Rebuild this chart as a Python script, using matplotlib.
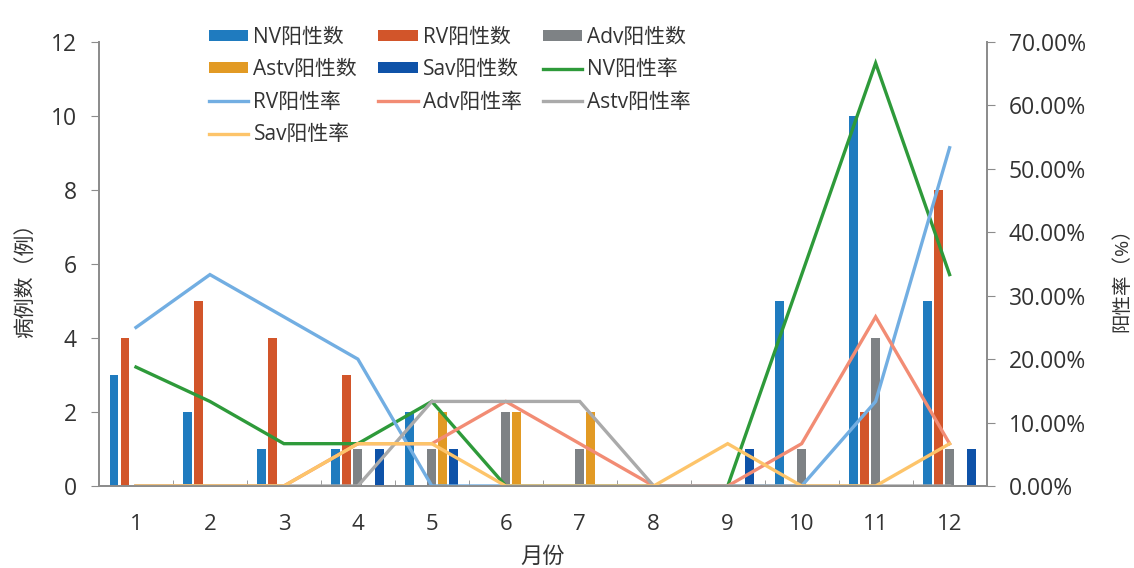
import numpy as np
import matplotlib

matplotlib.use("Agg")
import matplotlib.pyplot as plt
from matplotlib.ticker import FuncFormatter, MultipleLocator

plt.rcParams["font.family"] = ["Open Sans", "Noto Sans CJK SC", "DejaVu Sans"]

months = [1, 2, 3, 4, 5, 6, 7, 8, 9, 10, 11, 12]

# positive counts per month
nv_count = [3, 2, 1, 1, 2, 0, 0, 0, 0, 5, 10, 5]
rv_count = [4, 5, 4, 3, 0, 0, 0, 0, 0, 0, 2, 8]
adv_count = [0, 0, 0, 1, 1, 2, 1, 0, 0, 1, 4, 1]
astv_count = [0, 0, 0, 0, 2, 2, 2, 0, 0, 0, 0, 0]
sav_count = [0, 0, 0, 1, 1, 0, 0, 0, 1, 0, 0, 1]

# positive rates per month (%)
nv_rate = [18.75, 13.33, 6.67, 6.67, 13.33, 0, 0, 0, 0, 33.33, 66.67, 33.33]
rv_rate = [25.0, 33.33, 26.67, 20.0, 0, 0, 0, 0, 0, 0, 13.33, 53.33]
adv_rate = [0, 0, 0, 6.67, 6.67, 13.33, 6.67, 0, 0, 6.67, 26.67, 6.67]
astv_rate = [0, 0, 0, 0, 13.33, 13.33, 13.33, 0, 0, 0, 0, 0]
sav_rate = [0, 0, 0, 6.67, 6.67, 0, 0, 0, 6.67, 0, 0, 6.67]

BAR_SERIES = [
    ("NV阳性数", nv_count, "#1f7bbf"),
    ("RV阳性数", rv_count, "#d2552a"),
    ("Adv阳性数", adv_count, "#7e8285"),
    ("Astv阳性数", astv_count, "#e29a24"),
    ("Sav阳性数", sav_count, "#0e52a8"),
]
LINE_SERIES = [
    ("NV阳性率", nv_rate, "#2e9a3a"),
    ("RV阳性率", rv_rate, "#72aee2"),
    ("Adv阳性率", adv_rate, "#f28c74"),
    ("Astv阳性率", astv_rate, "#aaaaaa"),
    ("Sav阳性率", sav_rate, "#fdc46a"),
]

AXIS_GRAY = "#8c8c8c"
TEXT = "#333333"

fig = plt.figure(figsize=(11.34, 5.68), dpi=100)
ax = fig.add_axes([0.0873, 0.1444, 0.7827, 0.7816])
ax2 = ax.twinx()

x = np.array(months, dtype=float)
step, width = 0.149, 0.12
handles = {}
for i, (label, vals, color) in enumerate(BAR_SERIES):
    h = ax.bar(x + (i - 2) * step, vals, width=width, color=color, label=label, zorder=2)
    handles[label] = h
for label, vals, color in LINE_SERIES:
    (h,) = ax2.plot(x, vals, color=color, lw=2.4, label=label, solid_joinstyle="miter")
    handles[label] = h

ax.set_xlim(0.5, 12.5)
ax.set_ylim(0, 12)
ax2.set_ylim(0, 70)
ax.set_xticks(months)
ax.set_xticks(np.arange(1.5, 12.5, 1.0), minor=True)
ax.tick_params(axis="x", which="major", length=0, pad=20, labelsize=16, labelcolor=TEXT)
ax.tick_params(axis="x", which="minor", direction="in", length=4, color=AXIS_GRAY)
ax.yaxis.set_major_locator(MultipleLocator(2))
ax.tick_params(axis="y", length=6, color=AXIS_GRAY, pad=10, labelsize=16.5, labelcolor=TEXT)
ax2.yaxis.set_major_locator(MultipleLocator(10))
ax2.yaxis.set_major_formatter(FuncFormatter(lambda v, _: f"{v:.2f}%"))
ax2.tick_params(axis="y", length=6, color=AXIS_GRAY, pad=10, labelsize=16.5, labelcolor=TEXT)

for a in (ax, ax2):
    a.spines["top"].set_visible(False)
    for s in ("left", "right", "bottom"):
        a.spines[s].set_color(AXIS_GRAY)
        a.spines[s].set_linewidth(1.3)

ax.set_xlabel("月份", fontsize=16, color=TEXT, labelpad=9)
fig.text(27 / 1134, 0.515, "病例数（例）", rotation=90, ha="center", va="center",
         fontsize=15, color=TEXT)
fig.text(1122 / 1134, 0.515, "阳性率（%）", rotation=90, ha="center", va="center",
         fontsize=14, color=TEXT)

order = ["NV阳性数", "Astv阳性数", "RV阳性率", "Sav阳性率",
         "RV阳性数", "Sav阳性数", "Adv阳性率",
         "Adv阳性数", "NV阳性率", "Astv阳性率"]
fig.legend([handles[k] for k in order], order, ncol=3, frameon=False,
           loc="upper left", bbox_to_anchor=(0.173, 0.975), fontsize=15,
           handlelength=1.9, handleheight=0.45, handletextpad=0.25,
           columnspacing=1.0, labelspacing=0.55, labelcolor=TEXT,
           borderaxespad=0.2)

fig.savefig("out.png", dpi=100, facecolor="white")
